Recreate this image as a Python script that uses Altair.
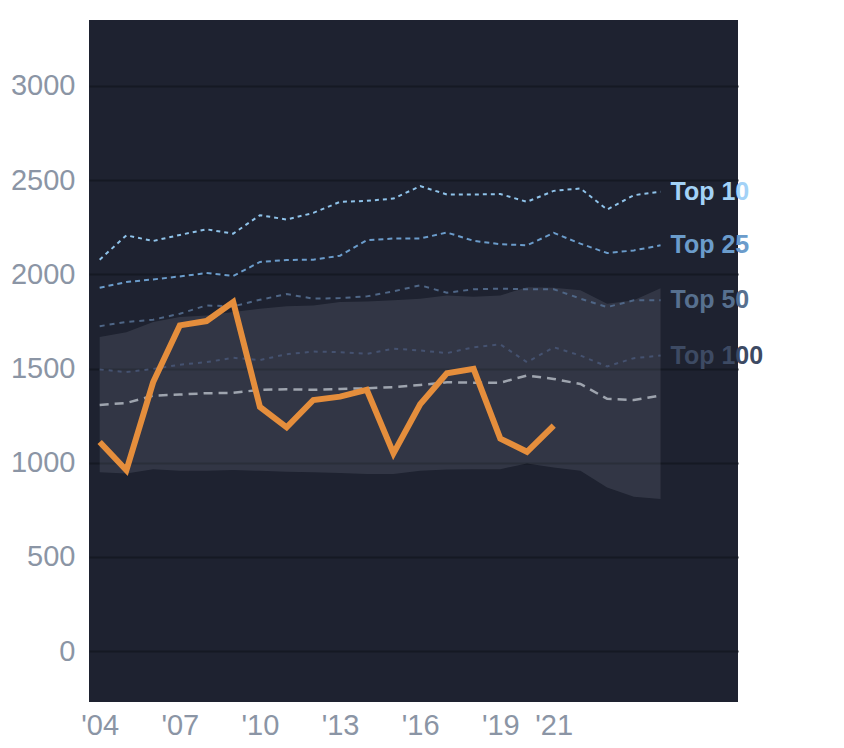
import altair as alt
import pandas as pd

years = list(range(2004, 2026))
top10 = [2078, 2207, 2177, 2209, 2239, 2216, 2314, 2291, 2326, 2385, 2390, 2402, 2468, 2424, 2424, 2426, 2385, 2443, 2456, 2344, 2420, 2438]
top25 = [1929, 1959, 1973, 1989, 2007, 1991, 2066, 2076, 2078, 2099, 2181, 2190, 2190, 2222, 2178, 2160, 2154, 2220, 2163, 2113, 2127, 2154]
top50 = [1725, 1747, 1759, 1791, 1835, 1830, 1865, 1895, 1871, 1874, 1883, 1910, 1942, 1902, 1921, 1924, 1921, 1921, 1871, 1826, 1862, 1862]
top100 = [1495, 1481, 1498, 1520, 1534, 1557, 1545, 1576, 1590, 1587, 1578, 1605, 1596, 1582, 1613, 1628, 1534, 1613, 1569, 1511, 1555, 1569]
median = [1307, 1317, 1356, 1362, 1369, 1371, 1387, 1390, 1387, 1392, 1395, 1401, 1413, 1427, 1425, 1425, 1463, 1445, 1418, 1339, 1333, 1356]
band_hi = [1667, 1693, 1747, 1773, 1782, 1800, 1817, 1830, 1835, 1853, 1856, 1862, 1871, 1888, 1881, 1888, 1932, 1929, 1915, 1844, 1862, 1926]
band_lo = [949, 943, 966, 957, 957, 961, 957, 952, 949, 945, 940, 940, 957, 964, 966, 966, 996, 975, 957, 869, 819, 807]

own_years = list(range(2004, 2022))
own = [1110, 960, 1427, 1729, 1752, 1853, 1296, 1188, 1333, 1351, 1387, 1050, 1310, 1475, 1498, 1128, 1058, 1197]

tier_names = ["Top 10", "Top 25", "Top 50", "Top 100"]
tier_values = [top10, top25, top50, top100]
tier_colors = ["#a3d2f7", "#6b9ccb", "#57708f", "#3d4a63"]
tier_line_colors = ["#8fc3ea", "#6b9ccb", "#4f6686", "#455270"]
tier_dash = [[4, 4], [5, 4], [5, 5], [4, 5]]

x_ticks = [2004, 2007, 2010, 2013, 2016, 2019, 2021]
y_ticks = [0, 500, 1000, 1500, 2000, 2500, 3000]

xscale = alt.Scale(domain=[2003.6, 2027.9], nice=False, zero=False)
yscale = alt.Scale(domain=[-270, 3350], nice=False, zero=False)

xaxis = alt.Axis(values=x_ticks, labelExpr="\"'\" + substring(toString(datum.value), 2)",
                 title=None, grid=False, ticks=False, domain=False, labelFontSize=29,
                 labelColor="#8b95a5", labelPadding=9, labelFont="Liberation Sans",
                 labelFlush=False)
yaxis = alt.Axis(values=y_ticks, format="d", title=None, ticks=False, domain=False,
                 labelFontSize=29, labelColor="#8b95a5", labelPadding=14,
                 labelFont="Liberation Sans",
                 grid=True, gridColor="#151923", gridWidth=2,
                 minExtent=81, maxExtent=81)

band_df = pd.DataFrame({"year": years, "lo": band_lo, "hi": band_hi})
band = alt.Chart(band_df).mark_area(color="#c8d0e0", opacity=0.12).encode(
    x=alt.X("year:Q", scale=xscale, axis=xaxis),
    y=alt.Y("lo:Q", scale=yscale, axis=yaxis),
    y2="hi:Q",
)

layers = [band]

for name, vals, col, dash in zip(tier_names, tier_values, tier_line_colors, tier_dash):
    df = pd.DataFrame({"year": years, "v": vals})
    layers.append(
        alt.Chart(df).mark_line(color=col, strokeWidth=2, strokeDash=dash).encode(
            x=alt.X("year:Q", scale=xscale), y=alt.Y("v:Q", scale=yscale)
        )
    )

med_df = pd.DataFrame({"year": years, "v": median})
layers.append(
    alt.Chart(med_df).mark_line(color="#9ea4ae", strokeWidth=2.5, strokeDash=[9, 6]).encode(
        x=alt.X("year:Q", scale=xscale), y=alt.Y("v:Q", scale=yscale)
    )
)

own_df = pd.DataFrame({"year": own_years, "v": own})
layers.append(
    alt.Chart(own_df).mark_line(color="#e58e3c", strokeWidth=6).encode(
        x=alt.X("year:Q", scale=xscale), y=alt.Y("v:Q", scale=yscale)
    )
)

lab_df = pd.DataFrame({
    "year": [years[-1]] * 4,
    "v": [t[-1] for t in tier_values],
    "name": tier_names,
})
labels = alt.Chart(lab_df).mark_text(
    align="left", baseline="middle", dx=10, fontSize=25, fontWeight="bold",
    font="Liberation Sans"
).encode(
    x=alt.X("year:Q", scale=xscale),
    y=alt.Y("v:Q", scale=yscale),
    text="name:N",
    color=alt.Color("name:N", scale=alt.Scale(domain=tier_names, range=tier_colors), legend=None),
)
layers.append(labels)

chart = alt.layer(*layers).properties(
    width=649, height=682,
    padding={"left": 0, "top": 12, "right": 5, "bottom": 5},
    background="white",
).configure_view(stroke=None, fill="#1e2230")

chart.save("out.html", embed_options={"renderer": "svg", "actions": False})
